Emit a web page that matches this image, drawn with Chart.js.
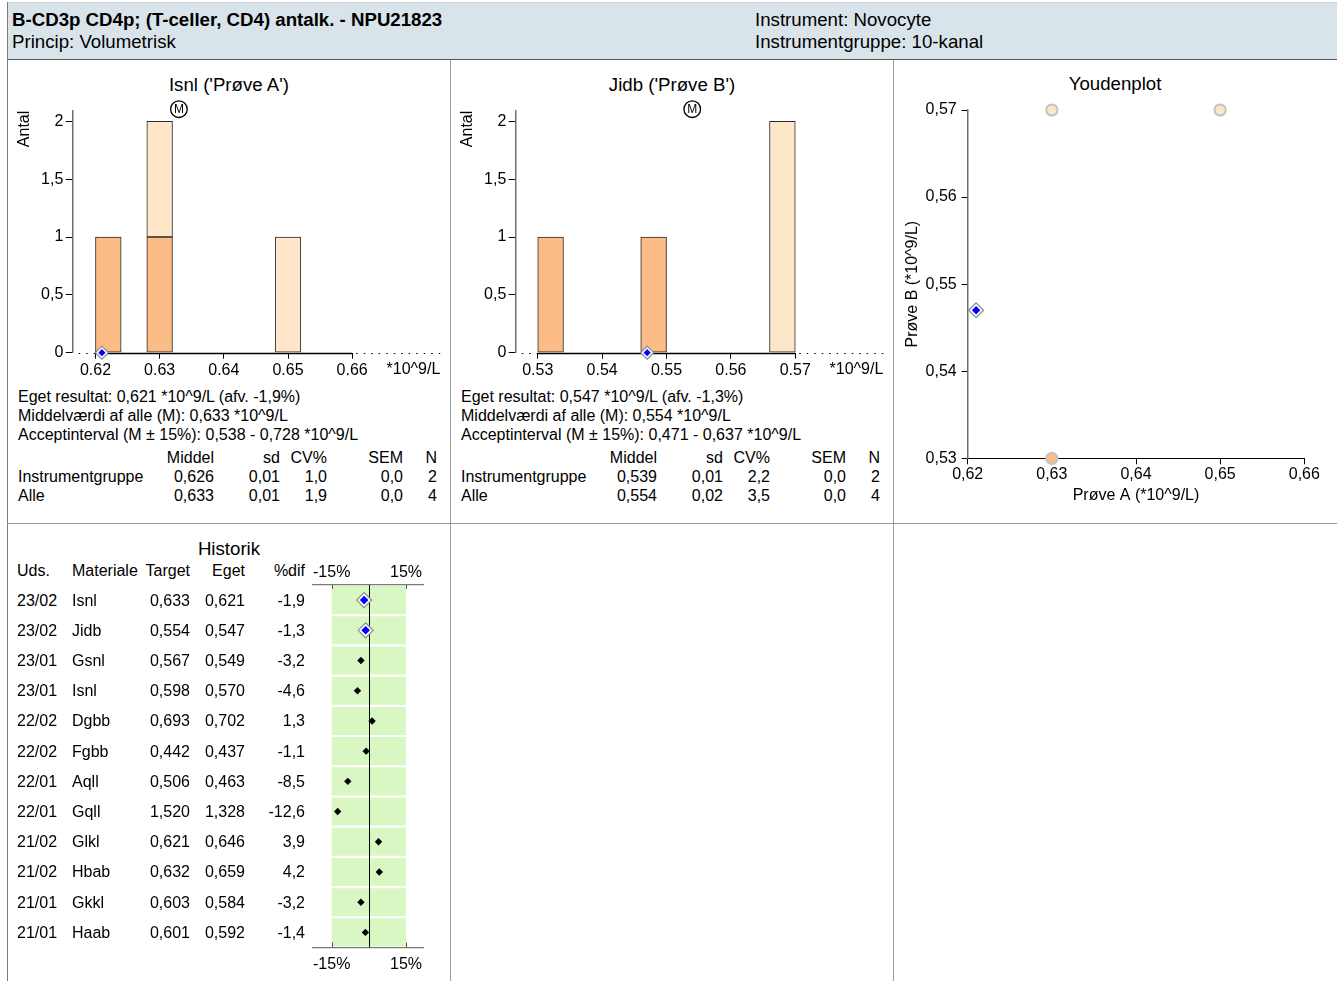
<!DOCTYPE html>
<html lang="da">
<head>
<meta charset="utf-8">
<title>B-CD3p CD4p; (T-celler, CD4) antalk. - NPU21823</title>
<script src="https://cdn.jsdelivr.net/npm/chart.js@4.4.1/dist/chart.umd.min.js"></script>
<style>
  html, body { margin:0; padding:0; background:#fff; }
  body { width:1337px; height:981px; position:relative; overflow:hidden;
         font-family:"Liberation Sans", Arial, Helvetica, sans-serif; font-size:16px; color:#000; }
  .header { position:absolute; left:7px; top:2px; width:1330px; height:58px; background:#d8e4ea;
            border-top:1px solid #cfcfcf; border-bottom:1px solid #5a5a5a; box-sizing:border-box; }
  .vline { position:absolute; width:1px; background:#9a9a9a; }
  .hline { position:absolute; height:1px; background:#9a9a9a; }
  .t { position:absolute; white-space:nowrap; line-height:16px; }
  .h { position:absolute; white-space:nowrap; font-size:18.67px; line-height:19px; }
  .b { font-weight:bold; }
  .ttl { position:absolute; white-space:nowrap; font-size:18.67px; line-height:18px; transform:translateX(-50%); }
  canvas { position:absolute; }
</style>
</head>
<body>
<div class="header"></div>
<div class="vline" style="left:7px;top:2px;height:979px;background:#7a7a7a"></div>
<div class="vline" style="left:450px;top:60px;height:921px"></div>
<div class="vline" style="left:893px;top:60px;height:921px"></div>
<div class="hline" style="left:7px;top:523px;width:1330px"></div>

<!-- header -->
<div class="h b" style="left:12px;top:9.7px">B-CD3p CD4p; (T-celler, CD4) antalk. - NPU21823</div>
<div class="h" style="left:12px;top:31.7px">Princip: Volumetrisk</div>
<div class="h" style="left:755px;top:9.7px">Instrument: Novocyte</div>
<div class="h" style="left:755px;top:31.7px">Instrumentgruppe: 10-kanal</div>

<!-- panel titles -->
<div class="ttl" style="left:229px;top:76px">Isnl ('Prøve A')</div>
<div class="ttl" style="left:672px;top:76px">Jidb ('Prøve B')</div>
<div class="ttl" style="left:1115px;top:75px">Youdenplot</div>
<div class="ttl" style="left:229px;top:540px">Historik</div>

<!-- statistics, sample A -->
<div class="t" style="left:18px;top:389px">Eget resultat: 0,621 *10^9/L (afv. -1,9%)</div>
<div class="t" style="left:18px;top:408px">Middelværdi af alle (M): 0,633 *10^9/L</div>
<div class="t" style="left:18px;top:427px">Acceptinterval (M ± 15%): 0,538 - 0,728 *10^9/L</div>
<div class="t" style="right:1123px;top:450px">Middel</div>
<div class="t" style="right:1057px;top:450px">sd</div>
<div class="t" style="right:1010px;top:450px">CV%</div>
<div class="t" style="right:934px;top:450px">SEM</div>
<div class="t" style="right:900px;top:450px">N</div>
<div class="t" style="left:18px;top:469px">Instrumentgruppe</div>
<div class="t" style="right:1123px;top:469px">0,626</div>
<div class="t" style="right:1057px;top:469px">0,01</div>
<div class="t" style="right:1010px;top:469px">1,0</div>
<div class="t" style="right:934px;top:469px">0,0</div>
<div class="t" style="right:900px;top:469px">2</div>
<div class="t" style="left:18px;top:488px">Alle</div>
<div class="t" style="right:1123px;top:488px">0,633</div>
<div class="t" style="right:1057px;top:488px">0,01</div>
<div class="t" style="right:1010px;top:488px">1,9</div>
<div class="t" style="right:934px;top:488px">0,0</div>
<div class="t" style="right:900px;top:488px">4</div>

<!-- statistics, sample B -->
<div class="t" style="left:461px;top:389px">Eget resultat: 0,547 *10^9/L (afv. -1,3%)</div>
<div class="t" style="left:461px;top:408px">Middelværdi af alle (M): 0,554 *10^9/L</div>
<div class="t" style="left:461px;top:427px">Acceptinterval (M ± 15%): 0,471 - 0,637 *10^9/L</div>
<div class="t" style="right:680px;top:450px">Middel</div>
<div class="t" style="right:614px;top:450px">sd</div>
<div class="t" style="right:567px;top:450px">CV%</div>
<div class="t" style="right:491px;top:450px">SEM</div>
<div class="t" style="right:457px;top:450px">N</div>
<div class="t" style="left:461px;top:469px">Instrumentgruppe</div>
<div class="t" style="right:680px;top:469px">0,539</div>
<div class="t" style="right:614px;top:469px">0,01</div>
<div class="t" style="right:567px;top:469px">2,2</div>
<div class="t" style="right:491px;top:469px">0,0</div>
<div class="t" style="right:457px;top:469px">2</div>
<div class="t" style="left:461px;top:488px">Alle</div>
<div class="t" style="right:680px;top:488px">0,554</div>
<div class="t" style="right:614px;top:488px">0,02</div>
<div class="t" style="right:567px;top:488px">3,5</div>
<div class="t" style="right:491px;top:488px">0,0</div>
<div class="t" style="right:457px;top:488px">4</div>

<!-- history table header -->
<div class="t" style="left:17px;top:563px">Uds.</div>
<div class="t" style="left:72px;top:563px">Materiale</div>
<div class="t" style="right:1147px;top:563px">Target</div>
<div class="t" style="right:1092px;top:563px">Eget</div>
<div class="t" style="right:1032px;top:563px">%dif</div>

<canvas id="histA" width="440" height="300" style="left:8px;top:90px"></canvas>
<canvas id="histB" width="440" height="300" style="left:452px;top:90px"></canvas>
<canvas id="youden" width="442" height="420" style="left:895px;top:95px"></canvas>
<canvas id="historik" width="140" height="420" style="left:300px;top:555px"></canvas>

<script>
// ---- Sample A (Isnl) histogram: bins of width 0.004, counts per bin ----
const binWidth = 0.004;
const binsA = [0.622, 0.630, 0.650];
const groupCountA = [1, 1, 0];   // own instrument group
const otherCountA = [0, 1, 1];   // remaining laboratories
const xTicksA = [0.62, 0.63, 0.64, 0.65, 0.66];
const ownA = 0.621;
const meanA = 0.633;

// ---- Sample B (Jidb) histogram ----
const binsB = [0.532, 0.548, 0.568];
const groupCountB = [1, 1, 0];
const otherCountB = [0, 0, 2];
const xTicksB = [0.53, 0.54, 0.55, 0.56, 0.57];
const ownB = 0.547;
const meanB = 0.554;

const countTicks = [0, 0.5, 1, 1.5, 2];

// ---- Youden plot: paired results (A, B) ----
const groupPairA = [0.63];
const groupPairB = [0.53];
const otherPairA = [0.63, 0.65];
const otherPairB = [0.57, 0.57];
const youdenTicksA = [0.62, 0.63, 0.64, 0.65, 0.66];
const youdenTicksB = [0.53, 0.54, 0.55, 0.56, 0.57];

// ---- History ----
const currentRound = '23/02';
const histDates = ['23/02', '23/02', '23/01', '23/01', '22/02', '22/02', '22/01', '22/01', '21/02', '21/02', '21/01', '21/01'];
const histMaterials = ['Isnl', 'Jidb', 'Gsnl', 'Isnl', 'Dgbb', 'Fgbb', 'Aqll', 'Gqll', 'Glkl', 'Hbab', 'Gkkl', 'Haab'];
const histTargets = [0.633, 0.554, 0.567, 0.598, 0.693, 0.442, 0.506, 1.520, 0.621, 0.632, 0.603, 0.601];
const histOwn = [0.621, 0.547, 0.549, 0.570, 0.702, 0.437, 0.463, 1.328, 0.646, 0.659, 0.584, 0.592];
const histDiffPct = [-1.9, -1.3, -3.2, -4.6, 1.3, -1.1, -8.5, -12.6, 3.9, 4.2, -3.2, -1.4];
const limitPct = 15;
const pctTicks = [-15, 15];

const DARK = '#fbbc86';
const LIGHT = '#fee7c9';
const FONT = "'Liberation Sans', Arial, Helvetica, sans-serif";

Chart.defaults.font.family = FONT;
Chart.defaults.font.size = 16;
Chart.defaults.color = '#000';
Chart.defaults.animation = false;
Chart.defaults.events = [];
Chart.defaults.plugins.legend.display = false;
Chart.defaults.plugins.tooltip.enabled = false;

const comma = (v, d) => v.toFixed(d).replace('.', ',');

// Baseline (dotted across the plot, solid over the tick range) and the circled M at the mean
const histDecor = {
  id: 'histDecor',
  beforeDatasetsDraw(chart, args, o) {
    const { ctx, chartArea: a, scales: { x, y } } = chart;
    const y0 = Math.round(y.getPixelForValue(0)) + 0.5;
    ctx.save();
    ctx.strokeStyle = '#000';
    ctx.lineWidth = 1.2;
    ctx.setLineDash([1.5, 6]);
    ctx.beginPath(); ctx.moveTo(a.left + 6, y0); ctx.lineTo(a.right, y0); ctx.stroke();
    ctx.setLineDash([]);
    ctx.lineWidth = 1.5;
    ctx.beginPath();
    ctx.moveTo(x.getPixelForValue(o.from), y0);
    ctx.lineTo(x.getPixelForValue(o.to), y0);
    ctx.stroke();
    ctx.restore();
  },
  afterDraw(chart, args, o) {
    const { ctx, chartArea: a, scales: { x } } = chart;
    const cx = x.getPixelForValue(o.mean), cy = a.top - 1.5;
    ctx.save();
    ctx.beginPath(); ctx.arc(cx, cy, 8.3, 0, Math.PI * 2);
    ctx.fillStyle = '#fff'; ctx.fill();
    ctx.lineWidth = 1.3; ctx.strokeStyle = '#000'; ctx.stroke();
    ctx.fillStyle = '#000';
    ctx.font = '12px ' + FONT;
    ctx.textAlign = 'center'; ctx.textBaseline = 'middle';
    ctx.fillText('M', cx, cy + 0.5);
    ctx.restore();
  }
};

function binPixels(chart) {
  const s = chart.scales.x;
  return Math.abs(s.getPixelForValue(binWidth) - s.getPixelForValue(0));
}

function histogram(id, cfg) {
  const bars = (counts, color) => ({
    type: 'bar',
    data: cfg.bins.map((b, i) => ({ x: b, y: counts[i] })),
    backgroundColor: color,
    borderColor: '#2a2a2a',
    borderWidth: 1,
    borderSkipped: false,
    barThickness: c => binPixels(c.chart)
  });
  return new Chart(document.getElementById(id), {
    type: 'bar',
    data: {
      datasets: [
        { type: 'line', data: [{ x: cfg.own, y: 0 }], showLine: false, pointStyle: 'rectRot',
          pointRadius: 3.6, pointBackgroundColor: '#0000ff', pointBorderColor: '#0000ff', pointBorderWidth: 0,
          stack: 'ownInner', clip: false },
        { type: 'line', data: [{ x: cfg.own, y: 0 }], showLine: false, pointStyle: 'rectRot',
          pointRadius: 6.5, pointBackgroundColor: '#fff', pointBorderColor: '#8a8a8a', pointBorderWidth: 1.2,
          stack: 'ownOuter', clip: false },
        bars(cfg.group, DARK),
        bars(cfg.other, LIGHT)
      ]
    },
    options: {
      responsive: false,
      devicePixelRatio: 1,
      layout: { padding: { left: 0, right: cfg.padRight, top: 20.7, bottom: 0 } },
      plugins: { histDecor: { from: cfg.ticks[0], to: cfg.ticks[cfg.ticks.length - 1], mean: cfg.mean } },
      scales: {
        x: {
          type: 'linear', min: cfg.min, max: cfg.max, stacked: true, offset: false,
          afterBuildTicks: s => { s.ticks = cfg.ticks.map(v => ({ value: v })); },
          afterFit: s => { s.height = 37.3; },
          border: { display: false },
          grid: { offset: false, drawOnChartArea: false, drawTicks: true, tickLength: 6, color: '#000', lineWidth: 1 },
          ticks: { padding: 2, autoSkip: false, maxRotation: 0, callback: v => v.toFixed(2) },
          title: { display: true, text: '*10^9/L', align: 'end', padding: { top: 0, bottom: 11 } }
        },
        y: {
          stacked: true, min: 0, max: 2.092,
          afterBuildTicks: s => { s.ticks = countTicks.map(v => ({ value: v })); },
          afterFit: s => { s.width = cfg.axisWidth; },
          border: { display: true, color: '#707070', width: 1.5 },
          grid: { drawOnChartArea: false, drawTicks: true, tickLength: 7, color: '#000' },
          ticks: { padding: 2.4, callback: v => String(v).replace('.', ',') },
          title: { display: true, text: 'Antal', align: 'end', padding: { top: cfg.titlePad } }
        }
      }
    },
    plugins: [histDecor]
  });
}

histogram('histA', {
  bins: binsA, group: groupCountA, other: otherCountA, ticks: xTicksA, own: ownA, mean: meanA,
  min: 0.61645, max: 0.67373, padRight: 7, axisWidth: 64.7, titlePad: 7.4
});
histogram('histB', {
  bins: binsB, group: groupCountB, other: otherCountB, ticks: xTicksB, own: ownB, mean: meanB,
  min: 0.52658, max: 0.58367, padRight: 8.7, axisWidth: 63.7, titlePad: 6.4
});

// Youden plot
new Chart(document.getElementById('youden'), {
  type: 'scatter',
  data: {
    datasets: [
      { data: [{ x: ownA, y: ownB }], pointStyle: 'rectRot', pointRadius: 4.2,
        pointBackgroundColor: '#0000ff', pointBorderColor: '#0000ff', pointBorderWidth: 0, clip: false },
      { data: [{ x: ownA, y: ownB }], pointStyle: 'rectRot', pointRadius: 7.5,
        pointBackgroundColor: '#fff', pointBorderColor: '#8a8a8a', pointBorderWidth: 1.2, clip: false },
      { data: groupPairA.map((a, i) => ({ x: a, y: groupPairB[i] })), pointRadius: 5.6,
        pointBackgroundColor: DARK, pointBorderColor: '#c3c3c3', pointBorderWidth: 2, clip: false },
      { data: otherPairA.map((a, i) => ({ x: a, y: otherPairB[i] })), pointRadius: 5.6,
        pointBackgroundColor: LIGHT, pointBorderColor: '#c3c3c3', pointBorderWidth: 2, clip: false }
    ]
  },
  options: {
    responsive: false,
    devicePixelRatio: 1,
    layout: { padding: { left: 0, right: 32.7, top: 15, bottom: 0 } },
    scales: {
      x: {
        min: 0.62, max: 0.66,
        afterBuildTicks: s => { s.ticks = youdenTicksA.map(v => ({ value: v })); },
        afterFit: s => { s.height = 56.7; },
        border: { display: true, color: '#000', width: 1 },
        grid: { drawOnChartArea: false, tickLength: 6, color: '#000' },
        ticks: { padding: 1.1, autoSkip: false, maxRotation: 0, callback: v => comma(v, 2) },
        title: { display: true, text: 'Prøve A (*10^9/L)', padding: { top: 0, bottom: 9.4 } }
      },
      y: {
        min: 0.53, max: 0.57,
        afterBuildTicks: s => { s.ticks = youdenTicksB.map(v => ({ value: v })); },
        afterFit: s => { s.width = 72.7; },
        border: { display: true, color: '#707070', width: 1.5 },
        grid: { drawOnChartArea: false, tickLength: 6, color: '#000' },
        ticks: { padding: 5, callback: v => comma(v, 2) },
        title: { display: true, text: 'Prøve B (*10^9/L)', padding: { top: 7.5 } }
      }
    }
  }
});

// History: deviation per round inside the ±15 % acceptance band
const historikDecor = {
  id: 'historikDecor',
  afterDatasetDraw(chart, args, o) {
    if (args.meta.type !== 'bar') return;
    const { ctx, chartArea: a, scales: { x } } = chart;
    ctx.save();
    ctx.strokeStyle = '#000';
    ctx.lineWidth = 1;
    const x0 = Math.round(x.getPixelForValue(0)) + 0.5;
    ctx.beginPath(); ctx.moveTo(x0, a.top); ctx.lineTo(x0, a.bottom); ctx.stroke();
    ctx.strokeStyle = '#555';
    o.limits.forEach(v => {
      const px = Math.round(x.getPixelForValue(v)) + 0.5;
      ctx.beginPath();
      ctx.moveTo(px, a.top); ctx.lineTo(px, a.top + 4);
      ctx.moveTo(px, a.bottom); ctx.lineTo(px, a.bottom - 5);
      ctx.stroke();
    });
    ctx.restore();
  }
};

const rowKeys = histDates.map((d, i) => d + ' ' + histMaterials[i]);
const currentRows = rowKeys.map((k, i) => histDates[i] === currentRound ? { x: histDiffPct[i], y: k } : null).filter(Boolean);
const pastRows = rowKeys.map((k, i) => histDates[i] !== currentRound ? { x: histDiffPct[i], y: k } : null).filter(Boolean);

const pctAxis = (pos, height, pad) => ({
  type: 'linear', position: pos, axis: 'x', min: -22.55, max: 21.86,
  afterBuildTicks: s => { s.ticks = pctTicks.map(v => ({ value: v })); },
  afterFit: s => { s.height = height; },
  border: { display: true, color: '#7a7a7a', width: 1.3 },
  grid: { display: true, drawOnChartArea: false, drawTicks: false },
  ticks: { padding: pad, autoSkip: false, maxRotation: 0, callback: v => v + '%' }
});

const historik = new Chart(document.getElementById('historik'), {
  type: 'bar',
  data: {
    labels: rowKeys,
    datasets: [
      { type: 'line', data: currentRows, showLine: false, pointStyle: 'rectRot', pointRadius: 4.3,
        pointBackgroundColor: '#0000ff', pointBorderColor: '#0000ff', pointBorderWidth: 0, xAxisID: 'x', clip: false },
      { type: 'line', data: currentRows, showLine: false, pointStyle: 'rectRot', pointRadius: 7.5,
        pointBackgroundColor: '#fff', pointBorderColor: '#8a8a8a', pointBorderWidth: 1.2, xAxisID: 'x', clip: false },
      { type: 'line', data: pastRows, showLine: false, pointStyle: 'rectRot', pointRadius: 3.7,
        pointBackgroundColor: '#000', pointBorderColor: '#000', pointBorderWidth: 0, xAxisID: 'x', clip: false },
      { type: 'bar', data: rowKeys.map(() => [-limitPct, limitPct]), backgroundColor: '#d9f7c2',
        borderWidth: 0, barPercentage: 0.93, categoryPercentage: 1, xAxisID: 'x' }
    ]
  },
  options: {
    indexAxis: 'y',
    responsive: false,
    devicePixelRatio: 1,
    layout: { padding: { left: 13, right: 17, top: 0, bottom: 0 } },
    plugins: { historikDecor: { limits: pctTicks } },
    scales: {
      y: { type: 'category', display: false, offset: true },
      x: pctAxis('bottom', 27.5, 7),
      xTop: pctAxis('top', 30, 3)
    }
  },
  plugins: [historikDecor]
});

// History table rows, aligned with the chart rows
(function () {
  const yScale = historik.scales.y;
  const top = 555;
  const add = (text, x, cy, align) => {
    const el = document.createElement('div');
    el.className = 't';
    el.textContent = text;
    el.style.top = (cy - 8) + 'px';
    if (align === 'right') el.style.right = (1337 - x) + 'px';
    else el.style.left = x + 'px';
    document.body.appendChild(el);
  };
  rowKeys.forEach((k, i) => {
    const cy = top + yScale.getPixelForValue(i) + 0.5;
    add(histDates[i], 17, cy, 'left');
    add(histMaterials[i], 72, cy, 'left');
    add(comma(histTargets[i], 3), 190, cy, 'right');
    add(comma(histOwn[i], 3), 245, cy, 'right');
    add(comma(histDiffPct[i], 1), 305, cy, 'right');
  });
})();
</script>
</body>
</html>
